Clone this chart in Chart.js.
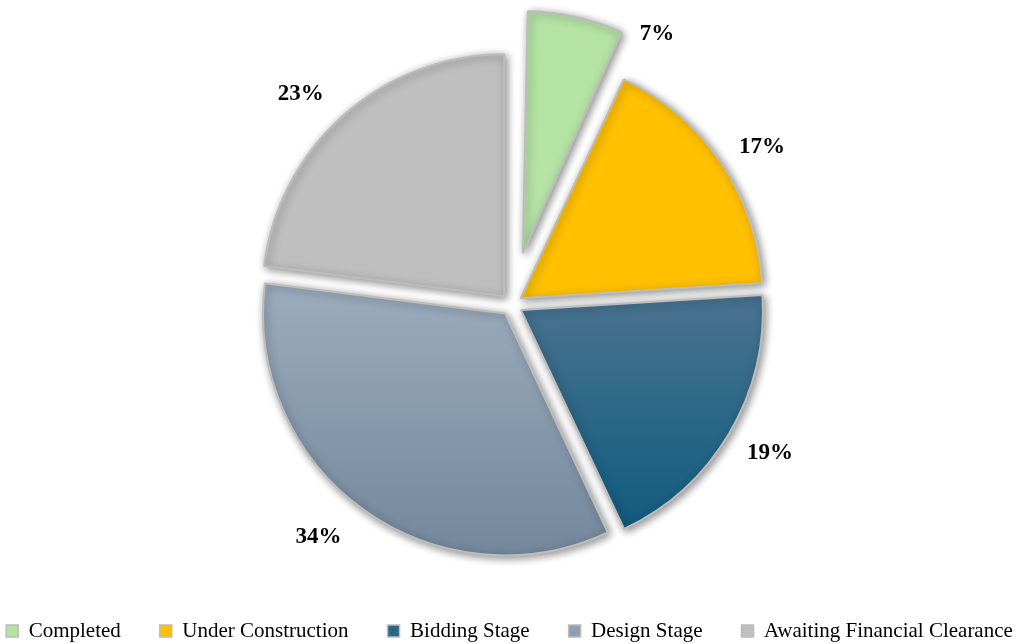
<!DOCTYPE html>
<html>
<head>
<meta charset="utf-8">
<script src="https://cdn.jsdelivr.net/npm/chart.js@4.4.0/dist/chart.umd.min.js"></script>
<style>
  html, body { margin: 0; padding: 0; background: #fff; }
  #wrap { width: 1023px; height: 644px; position: relative; }
</style>
</head>
<body>
<div id="wrap"><canvas id="stageChart"></canvas></div>
<script>
// project status shares (percent)
const stages = ['Completed', 'Under Construction', 'Bidding Stage', 'Design Stage', 'Awaiting Financial Clearance'];
const shares = [7, 17, 19, 34, 23];

const SERIF = "'Liberation Serif', 'Times New Roman', serif";
const R = 242;                                // pie radius in px
const explode = [210, 44, 44, 44, 44];        // arc offset (chart.js moves slices by offset / 4)
const baseColors = ['#b5e3a4', '#ffc000', '#2b6689', '#8da0b2', '#bfbfbf'];
// vertical gradients for the two blue slices: [topColor, bottomColor, start y relative to centre]
const gradients = [null, null, ['#46728f', '#0b597e', 0], ['#9aabbc', '#73889c', -25], null];
// label placement: distance from pie centre and a small turn off the slice mid angle (deg)
const labelDist = [307, 296, 298, 302, 298];
const labelTurn = [15.7, 2, -0.8, 3.7, -3.6];

function sliceFill(c) {
  const i = c.dataIndex;
  const area = c.chart.chartArea;
  const g = gradients[i];
  if (!g || !area) return baseColors[i];
  const cy = (area.top + area.bottom) / 2;
  const grad = c.chart.ctx.createLinearGradient(0, cy + g[2], 0, cy + R);
  grad.addColorStop(0, g[0]);
  grad.addColorStop(1, g[1]);
  return grad;
}

// keep exploded slices at the same radius (arc.draw grows small slices by their offset)
const evenRadius = {
  id: 'evenRadius',
  afterDatasetUpdate(chart, args) {
    args.meta.data.forEach((arc, i) => {
      const shift = explode[i] / 4;
      const fix = 1 - Math.sin(Math.min(Math.PI, arc.circumference));
      arc.outerRadius = R - shift * fix;
    });
  }
};

const softShadow = {
  id: 'softShadow',
  beforeDatasetsDraw(chart) {
    const ctx = chart.ctx;
    ctx.save();
    ctx.shadowColor = 'rgba(0, 0, 0, 0.45)';
    ctx.shadowBlur = 9;
    ctx.shadowOffsetX = 2;
    ctx.shadowOffsetY = 2;
  },
  afterDatasetsDraw(chart) {
    chart.ctx.restore();
  }
};

const percentLabels = {
  id: 'percentLabels',
  afterDraw(chart) {
    const ctx = chart.ctx;
    const meta = chart.getDatasetMeta(0);
    ctx.save();
    ctx.font = 'bold 23px ' + SERIF;
    ctx.fillStyle = '#000';
    ctx.textAlign = 'center';
    ctx.textBaseline = 'middle';
    meta.data.forEach((arc, i) => {
      const mid = (arc.startAngle + arc.endAngle) / 2 + labelTurn[i] * Math.PI / 180;
      const x = arc.x + Math.cos(mid) * labelDist[i];
      const y = arc.y + Math.sin(mid) * labelDist[i];
      ctx.fillText(shares[i] + '%', x, y);
    });
    ctx.restore();
  }
};

const ctx = document.getElementById('stageChart');
new Chart(ctx, {
  type: 'pie',
  data: {
    labels: stages,
    datasets: [{
      data: shares,
      backgroundColor: sliceFill,
      borderColor: '#bcbcbc',
      borderWidth: 2,
      offset: explode,
      radius: R
    }]
  },
  options: {
    responsive: true,
    maintainAspectRatio: false,
    animation: false,
    layout: { padding: { top: 27.5, bottom: -7.5, left: -60, right: -56 } },
    plugins: {
      tooltip: { enabled: false },
      legend: {
        position: 'bottom',
        labels: {
          boxWidth: 12,
          boxHeight: 12,
          padding: 39,
          color: '#000',
          font: { family: SERIF, size: 21 },
          generateLabels(chart) {
            const items = Chart.overrides.doughnut.plugins.legend.labels.generateLabels(chart);
            items.forEach((it, i) => {
              it.fillStyle = baseColors[i];
              it.lineWidth = 1.5;
            });
            return items;
          }
        }
      }
    }
  },
  plugins: [evenRadius, softShadow, percentLabels]
});
</script>
</body>
</html>
